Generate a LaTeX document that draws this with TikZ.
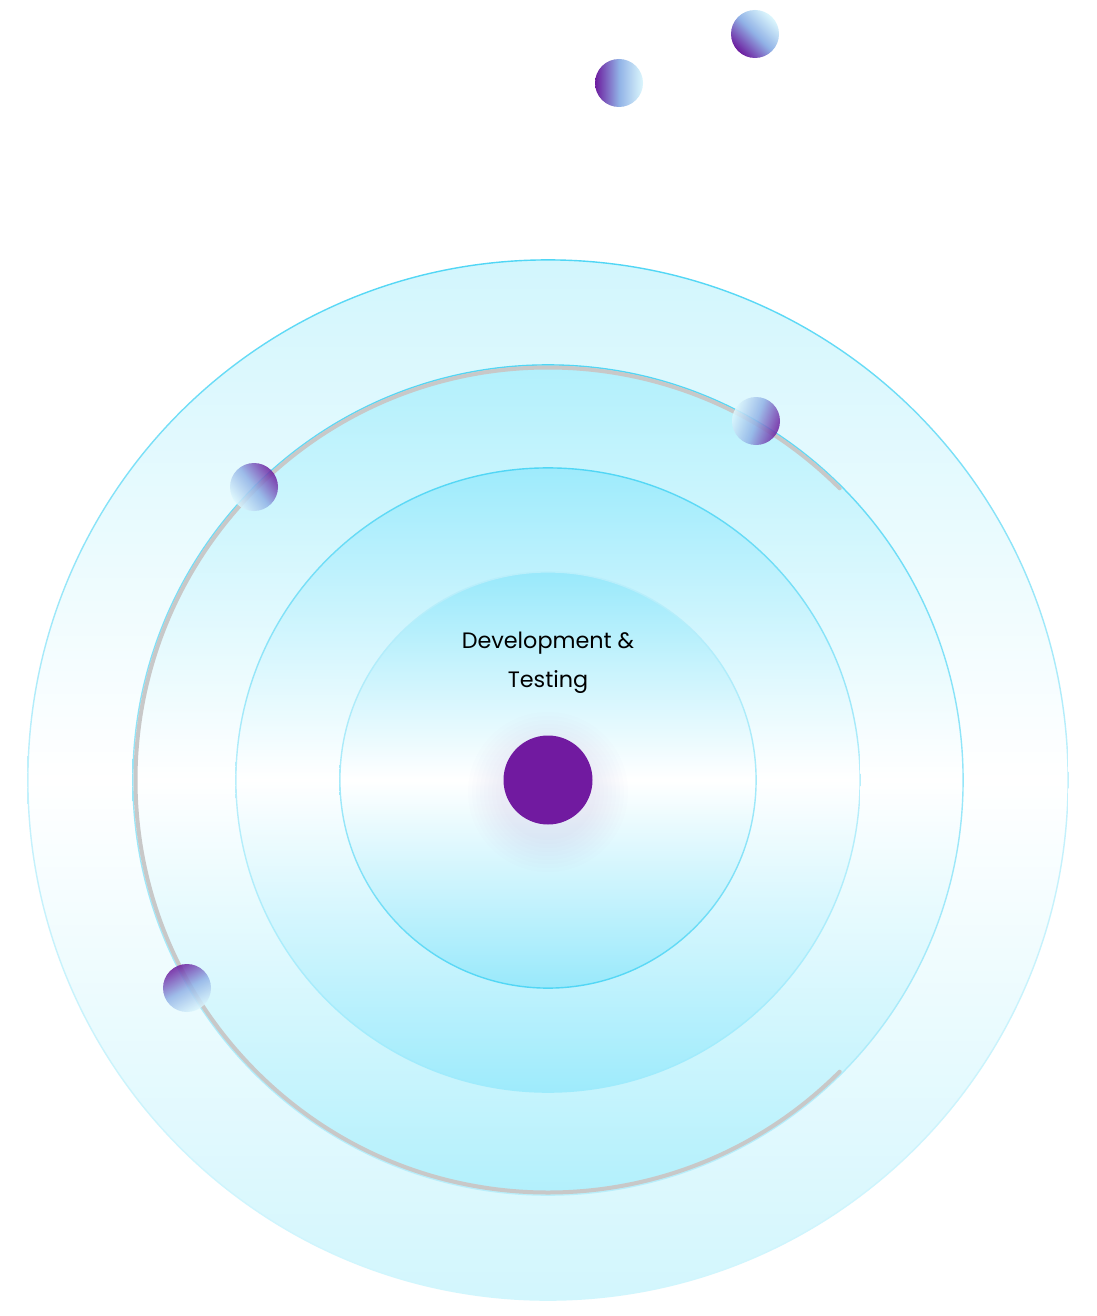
\documentclass[tikz,border=0pt]{standalone}
\usepackage{fontspec}
\setmainfont{Poppins}
\definecolor{rA}{RGB}{210,246,253}
\definecolor{rB}{RGB}{178,240,252}
\definecolor{rC}{RGB}{158,235,252}
\definecolor{rD}{RGB}{153,233,251}
\definecolor{bd}{RGB}{80,214,245}
\definecolor{arcgray}{RGB}{200,200,200}
\definecolor{dot}{RGB}{113,26,160}
\definecolor{spP}{RGB}{108,28,158}
\definecolor{spM}{RGB}{145,178,230}
\definecolor{spL}{RGB}{220,247,253}
\tikzset{
  sphere/.style={top color=spP, bottom color=spL, middle color=spM, shading angle=#1},
  lbl/.style={anchor=base, inner sep=0pt, font=\fontsize{22.3}{26}\selectfont, text=black}
}
\begin{document}
\begin{tikzpicture}[x=1pt,y=1pt]
\useasboundingbox (0,0) rectangle (1096,-1316);
\fill[white] (0,0) rectangle (1096,-1316);
\coordinate (C) at (548,-780);
% rings
\shade[top color=rA, bottom color=rA, middle color=white] (C) circle (520);
\shade[top color=bd, bottom color=rA, middle color=bd!35!white, even odd rule] (C) circle (520.8) (C) circle (519.4);
\shade[top color=rB, bottom color=rB, middle color=white] (C) circle (415);
\shade[top color=bd, bottom color=bd!40!white, middle color=bd!60!white, even odd rule] (C) circle (415.8) (C) circle (414.4);
\shade[top color=rC, bottom color=rC, middle color=white] (C) circle (312);
\shade[top color=bd, bottom color=rC, middle color=bd!40!white, even odd rule] (C) circle (312.8) (C) circle (311.4);
\shade[top color=rD, bottom color=rD, middle color=white] (C) circle (208);
\shade[top color=bd!40!white, bottom color=bd, middle color=bd!50!white, even odd rule] (C) circle (208.8) (C) circle (207.4);
% gray orbit arc
\draw[line width=4pt, arcgray, line cap=round] (C) ++(45:412.5) arc (45:315:412.5);
% glow and center dot
\foreach \r in {80,76,...,46} {\fill[dot, opacity=0.007] (548,-792) circle (\r);}
\fill[dot] (C) circle (44.5);
% label
\node[lbl] (t1) at (548,-648) {Development \&};
\node[lbl] (t2) at (548,-687) {Testing};
% spheres
\shade[sphere=-110, opacity=0.85] (756,-421) circle (24);
\shade[sphere=-52, opacity=0.85] (254,-487) circle (24);
\shade[sphere=29, opacity=0.85] (187,-988) circle (24);
\shade[sphere=90] (619,-83) circle (24);
\shade[sphere=135] (755,-34) circle (24);
\end{tikzpicture}
\end{document}
